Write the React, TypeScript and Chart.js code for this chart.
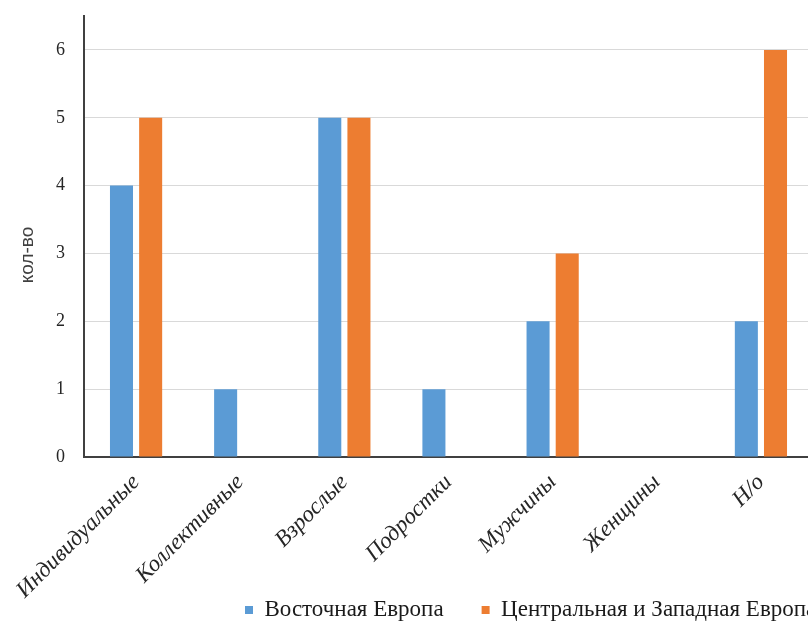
import React, { useEffect, useRef } from "react";
import { Chart, registerables } from "chart.js";

Chart.register(...registerables);

const categories = ["Индивидуальные", "Коллективные", "Взрослые", "Подростки", "Мужчины", "Женщины", "Н/о"];
const eastEurope = [4, 1, 5, 1, 2, 0, 2];
const centralWestEurope = [5, 0, 5, 0, 3, 0, 6];
const seriesNames = ["Восточная Европа", "Центральная и Западная Европа"];
const yTicks = [0, 1, 2, 3, 4, 5, 6];
const yTitle = "кол-во";

const CANVAS_W = 830;
const CANVAS_H = 683;
const PLOT_RIGHT = 813;
const LEGEND_FONT = 23;
const LEGEND_GAP = 38;
const LEGEND_X = 245;
const LEGEND_Y = 610;

const legendPlacer = {
  id: "legendPlacer",
  beforeDraw(chart: any) {
    const lg = chart.legend;
    if (!lg) return;
    const P = LEGEND_GAP;
    lg.left = LEGEND_X - P;
    lg.right = chart.width + 600;
    lg.top = LEGEND_Y - P - LEGEND_FONT / 2;
    lg.bottom = lg.top + P + LEGEND_FONT + 20;
  },
};

export default function App() {
  const ref = useRef<HTMLCanvasElement>(null);

  useEffect(() => {
    const chart = new Chart(ref.current as HTMLCanvasElement, {
      type: "bar",
      data: {
        labels: categories,
        datasets: [
          {
            label: seriesNames[0],
            data: eastEurope,
            backgroundColor: "#5B9BD5",
            categoryPercentage: 0.56,
            barPercentage: 0.79,
          },
          {
            label: seriesNames[1],
            data: centralWestEurope,
            backgroundColor: "#ED7D31",
            categoryPercentage: 0.56,
            barPercentage: 0.79,
          },
        ],
      },
      plugins: [legendPlacer],
      options: {
        responsive: false,
        animation: false,
        layout: { padding: { top: 16, left: 0, right: CANVAS_W - PLOT_RIGHT, bottom: 0 } },
        plugins: {
          legend: {
            position: "bottom",
            align: "start",
            labels: {
              boxWidth: 8,
              boxHeight: 8,
              padding: LEGEND_GAP,
              color: "#1a1a1a",
              font: { family: "Liberation Serif", size: LEGEND_FONT },
            },
          },
          tooltip: { enabled: false },
        },
        scales: {
          x: {
            grid: { display: false, drawTicks: false },
            border: { display: true, color: "#404040", width: 2 },
            ticks: {
              autoSkip: false,
              maxRotation: 45,
              minRotation: 45,
              padding: 12,
              color: "#262626",
              font: { family: "Liberation Serif", size: 23, style: "italic" },
            },
            afterFit: (s: any) => {
              s.height = 155;
            },
          },
          y: {
            min: 0,
            max: 6.5,
            afterBuildTicks: (s: any) => {
              s.ticks = yTicks.map((v) => ({ value: v }));
            },
            grid: {
              color: "#d9d9d9",
              lineWidth: 1,
              drawTicks: true,
              tickLength: 16,
              tickColor: "rgba(0,0,0,0)",
            },
            border: { color: "#404040", width: 2 },
            ticks: {
              padding: 3,
              color: "#262626",
              font: { family: "Liberation Serif", size: 18 },
            },
            title: {
              display: true,
              text: yTitle + "       ",
              color: "#404040",
              font: { family: "Liberation Sans", size: 19 },
              padding: { top: 16, bottom: 0 },
            },
            afterFit: (s: any) => {
              s.width = 84;
            },
          },
        },
      },
    });
    return () => chart.destroy();
  }, []);

  return (
    <div
      style={{
        position: "fixed",
        left: 0,
        top: 0,
        width: 808,
        height: 626,
        overflow: "hidden",
        background: "#ffffff",
      }}
    >
      <canvas ref={ref} width={CANVAS_W} height={CANVAS_H} style={{ display: "block" }} />
    </div>
  );
}
